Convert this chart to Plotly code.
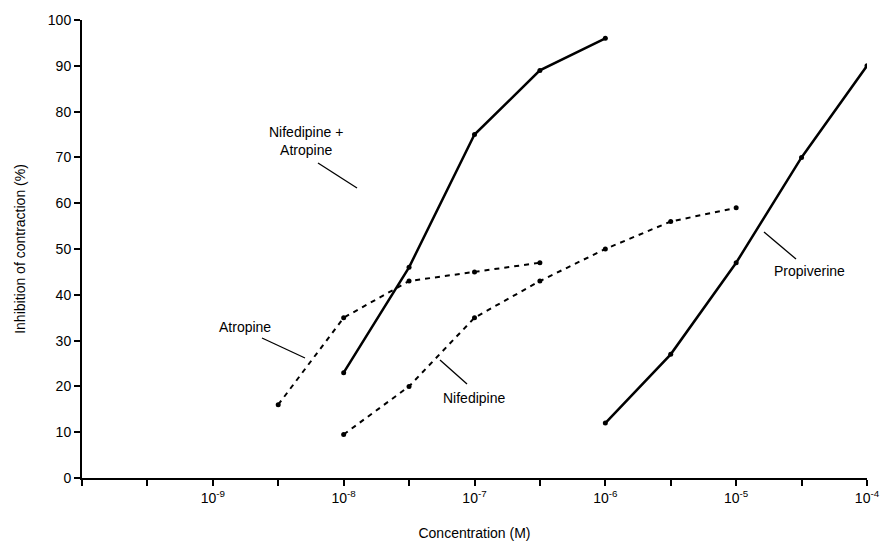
import plotly.graph_objects as go

conc_na = [1e-8, 3.16e-8, 1e-7, 3.16e-7, 1e-6]
inh_na = [23, 46, 75, 89, 96]

conc_atr = [3.16e-9, 1e-8, 3.16e-8, 1e-7, 3.16e-7]
inh_atr = [16, 35, 43, 45, 47]

conc_nif = [1e-8, 3.16e-8, 1e-7, 3.16e-7, 1e-6, 3.16e-6, 1e-5]
inh_nif = [9.5, 20, 35, 43, 50, 56, 59]

conc_pro = [1e-6, 3.16e-6, 1e-5, 3.16e-5, 1e-4]
inh_pro = [12, 27, 47, 70, 90]

x_tickvals = [10.0 ** e for e in range(-9, -3)]
x_ticktext = ["10<sup>%d</sup>" % e for e in range(-9, -3)]
x_minor = [10 ** (e / 2) for e in range(-20, -7)]

W, H = 885, 546
L, R, T, B = 82, 18, 20, 68
PW, PH = W - L - R, H - T - B

def px(x):
    return (x - L) / PW

def py(y):
    return (H - B - y) / PH

FONT = "Liberation Sans, Arial, sans-serif"
FS = 14

fig = go.Figure()
line_specs = [
    (conc_na, inh_na, "solid", 2.5),
    (conc_atr, inh_atr, "dash", 2),
    (conc_nif, inh_nif, "dash", 2),
    (conc_pro, inh_pro, "solid", 2.5),
]
for xs, ys, dash, w in line_specs:
    fig.add_trace(go.Scatter(
        x=xs, y=ys, mode="lines+markers",
        line=dict(color="black", width=w, dash="5px,5px" if dash == "dash" else "solid"),
        marker=dict(color="black", size=5),
        showlegend=False, hoverinfo="skip",
    ))

labels = [
    ("Nifedipine +<br>Atropine", 306, 141),
    ("Atropine", 245, 327),
    ("Nifedipine", 474, 398),
    ("Propiverine", 809, 271),
]
for text, x, y in labels:
    fig.add_annotation(text=text, x=px(x), y=py(y), xref="paper", yref="paper",
                       xanchor="center", yanchor="middle",
                       showarrow=False, font=dict(family=FONT, size=FS, color="black"))

leaders = [
    (318, 163, 357, 188),
    (262, 338, 305, 358),
    (440, 360, 467, 384),
    (764, 232, 796, 259),
]
for x0, y0, x1, y1 in leaders:
    fig.add_shape(type="line", xref="paper", yref="paper",
                  x0=px(x0), y0=py(y0), x1=px(x1), y1=py(y1),
                  line=dict(color="black", width=1.3))

fig.update_layout(
    width=W, height=H,
    margin=dict(l=L, r=R, t=T, b=B),
    plot_bgcolor="white", paper_bgcolor="white",
    font=dict(family=FONT, size=FS, color="black"),
    xaxis=dict(
        type="log", range=[-10, -4], automargin=False,
        tickvals=x_tickvals, ticktext=x_ticktext,
        ticks="outside", ticklen=6, tickwidth=1.5, tickcolor="black",
        minor=dict(tickvals=x_minor, ticks="outside", ticklen=6, tickwidth=1.5,
                   tickcolor="black", showgrid=False),
        showline=True, linecolor="black", linewidth=2,
        showgrid=False, zeroline=False,
        title=dict(text="Concentration (M)", font=dict(size=FS), standoff=23),
        tickfont=dict(size=FS),
    ),
    yaxis=dict(
        range=[0, 100], tickvals=list(range(0, 101, 10)), automargin=False,
        ticks="outside", ticklen=6, tickwidth=1.5, tickcolor="black",
        showline=True, linecolor="black", linewidth=2,
        showgrid=False, zeroline=False,
        title=dict(text="Inhibition of contraction (%)", font=dict(size=FS), standoff=19),
        tickfont=dict(size=FS),
    ),
)

fig.write_html(
    "out.html",
    config={"displayModeBar": False},
    post_script="document.body.style.margin='0';document.body.style.overflow='hidden';",
)
